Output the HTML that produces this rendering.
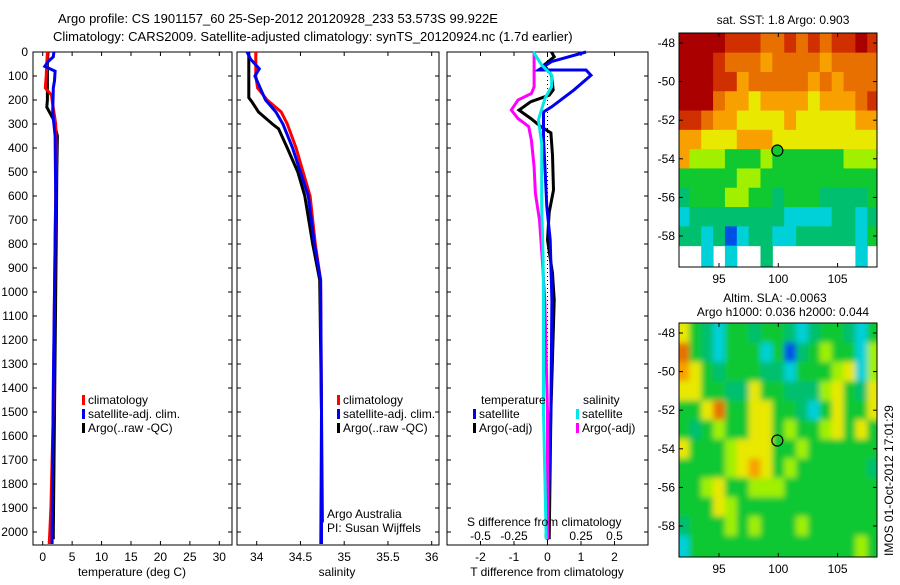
<!DOCTYPE html>
<html><head><meta charset="utf-8"><style>
body{margin:0;background:#fff;}
svg text{font-family:"Liberation Sans",sans-serif;font-size:12px;fill:#000;}
</style></head><body>
<svg id="fig" width="900" height="580" viewBox="0 0 900 580" xmlns="http://www.w3.org/2000/svg">
<rect width="900" height="580" fill="#fff"/>
<text x="58" y="23" style="font-size:13px">Argo profile: CS 1901157_60 25-Sep-2012 20120928_233 53.573S 99.922E</text>
<text x="53" y="41" style="font-size:13px">Climatology: CARS2009. Satellite-adjusted climatology: synTS_20120924.nc (1.7d earlier)</text>
<g id="plots"></g>
<text x="327" y="518">Argo Australia</text>
<text x="327" y="532">PI: Susan Wijffels</text>
<text x="467" y="526">S difference from climatology</text>
<text x="783" y="24" text-anchor="middle">sat. SST: 1.8 Argo: 0.903</text>
<text x="775" y="302" text-anchor="middle">Altim. SLA: -0.0063</text>
<text x="783" y="316" text-anchor="middle">Argo h1000: 0.036 h2000: 0.044</text>
<text transform="translate(893,556) rotate(-90)">IMOS 01-Oct-2012 17:01:29</text>
</svg>
<script>
// ---- profile data ----
const depthTClim=[0,100,150,180,200,300,400,600,1000,1500,1900,2000,2050];
const tempClim=[0.8,0.6,0.45,1.5,1.6,2.2,2.3,2.2,2.0,1.8,1.4,1.2,1.1];
const depthTSat=[0,20,40,60,80,120,150,250,350,600,1000,1400,2000,2050];
const tempSat=[1.9,1.8,0.9,0.35,2.1,2.0,1.8,1.7,2.1,2.2,2.0,1.8,1.6,1.6];
const depthTArgo=[0,50,200,230,280,350,500,800,1000,1500,2000,2030];
const tempArgo=[0.9,0.8,0.8,0.7,1.8,2.5,2.4,2.3,2.2,2.0,1.8,1.8];
const depthSClim=[0,100,150,200,250,300,400,500,600,800,950,1500,2050];
const salClim=[33.99,33.99,34.01,34.12,34.28,34.35,34.45,34.53,34.61,34.67,34.73,34.74,34.73];
const depthSSat=[0,30,70,100,200,250,300,400,500,600,800,950,1500,2050];
const salSat=[33.89,33.93,34.03,33.98,34.10,34.22,34.30,34.41,34.50,34.59,34.66,34.73,34.74,34.74];
const depthSArgo=[0,190,210,250,300,320,400,500,600,800,950,1500,1960];
const salArgo=[33.91,33.91,33.95,34.02,34.18,34.25,34.35,34.47,34.55,34.64,34.72,34.74,34.75];
const depthDTSat=[0,40,75,75,97,158,228,250,360,500,645,783,1033,1500,2030];
const dTSat=[1.15,0.12,-0.27,1.15,1.30,0.79,0.13,-0.12,-0.12,-0.07,-0.02,0.08,0.13,0.1,0.0];
const depthDTArgo=[0,20,54,97,158,180,207,242,277,311,337,430,575,668,783,922,1033,1500,2030];
const dTArgo=[0.12,0.2,-0.1,0.12,0.17,0.05,-0.5,-0.85,-0.5,-0.2,0.1,0.15,0.18,0.05,0.0,0.15,0.2,0.1,0.05];
const depthDSSat=[0,54,97,145,192,283,380,645,853,1033,1500,2030];
const dSSat=[-0.106,-0.043,0.033,0.03,-0.018,-0.068,-0.043,-0.043,-0.033,-0.03,-0.03,-0.01];
const depthDSArgo=[0,145,173,200,242,277,311,368,478,589,700,853,1033,1500,2030];
const dSArgo=[-0.1,-0.1,-0.12,-0.22,-0.27,-0.22,-0.14,-0.12,-0.10,-0.09,-0.06,-0.04,-0.02,0.0,0.0];
// ---- axis ticks ----
const depthTicks=[0,100,200,300,400,500,600,700,800,900,1000,1100,1200,1300,1400,1500,1600,1700,1800,1900,2000];
const tempTicks=[0,5,10,15,20,25,30];
const salTicks=[34,34.5,35,35.5,36];
const salTickLabels=["34","34.5","35","35.5","36"];
const dTTicks=[-2,-1,0,1,2];
const dSTicks=[-0.5,-0.25,0,0.25,0.5];
const dSTickLabels=["-0.5","-0.25","0","0.25","0.5"];
const lonTicks=[95,100,105];
const latTicks=[-48,-50,-52,-54,-56,-58];
// ---- map grids (rows from -48 to -59 lat, cols 92..108 lon, value 0..9, '.' = no data) ----
const sstGrid=["99998887787878898","99987776777767777","99988677777676777","99976656666566678","88766555565555566","66555666555555555","64443334333333444","33333443333333333","23334433233322223","12222222211112212","22120122112222213","..1.1..2.......1."];
const slaGrid=["53213323321233213","73213331302343314","65323332213334514","55332253322245325","33573355332135335","32343355343345353","53334555334333333","33334565343333332","33453344433333333","33354333333333333","23334343334333333","13333333333333343"];
const colorLevels=["#0050e8","#00d0d8","#00c070","#10c830","#a0f000","#e8e800","#f8a000","#e87000","#d03000","#aa0000"];

const NS="http://www.w3.org/2000/svg";
const root=document.getElementById('plots');
function mk(tag,attrs,parent){const e=document.createElementNS(NS,tag);for(const k in attrs)e.setAttribute(k,attrs[k]);(parent||root).appendChild(e);return e;}
const Y0=52,YS=0.24,TOP=52,BOT=545;
const yD=d=>Y0+d*YS;
function lin(d0,d1,p0,p1){return v=>p0+(v-d0)/(d1-d0)*(p1-p0);}
const panels=[
 {name:'temperature-panel',x0:33,x1:232,f:lin(0,30,42.7,219.3)},
 {name:'salinity-panel',x0:237,x1:439,f:lin(34,36,256.7,431.7)},
 {name:'difference-panel',x0:447,x1:648,f:lin(0,2,547.5,614.5)}
];
const fS=lin(0,0.5,547.5,614.5);
panels.forEach((p,i)=>{
  const g=mk('g',{});
  
  
  const fr=mk('rect',{x:p.x0,y:TOP,width:p.x1-p.x0,height:BOT-TOP,fill:'none',stroke:'#000','stroke-width':1},g);
  
  
  depthTicks.forEach(d=>{
    mk('line',{x1:p.x0,x2:p.x0+4,y1:yD(d),y2:yD(d),stroke:'#000'},g);
    mk('line',{x1:p.x1,x2:p.x1-4,y1:yD(d),y2:yD(d),stroke:'#000'},g);
  });
});
depthTicks.forEach(d=>{
  const t=mk('text',{x:28,y:yD(d)+4,'text-anchor':'end'});t.textContent=d;
  
  
});
function xTicks(p,ticks,labels,f){
  ticks.forEach((v,i)=>{
    const x=f(v);
    mk('line',{x1:x,x2:x,y1:TOP,y2:TOP+4,stroke:'#000'});
    mk('line',{x1:x,x2:x,y1:BOT,y2:BOT-4,stroke:'#000'});
    const t=mk('text',{x:x,y:561,'text-anchor':'middle'});t.textContent=labels?labels[i]:v;
    
    
  });
}
xTicks(panels[0],tempTicks,null,panels[0].f);
xTicks(panels[1],salTicks,salTickLabels,panels[1].f);
xTicks(panels[2],dTTicks,null,panels[2].f);
dSTicks.forEach((v,i)=>{const t=mk('text',{x:fS(v),y:540,'text-anchor':'middle'});t.textContent=dSTickLabels[i];
  
  });
[['temperature (deg C)',132],['salinity',337],['T difference from climatology',547]].forEach(a=>{
  const t=mk('text',{x:a[1],y:576,'text-anchor':'middle'});t.textContent=a[0];
  
  
});
mk('line',{x1:panels[2].f(0),x2:panels[2].f(0),y1:TOP,y2:BOT,stroke:'#000','stroke-dasharray':'1,3'});
function series(name,depths,vals,f,color,w){
  const pts=depths.map((d,i)=>f(vals[i]).toFixed(1)+','+yD(d).toFixed(1)).join(' ');
  const l=mk('polyline',{points:pts,fill:'none',stroke:color,'stroke-width':w||3,'stroke-linejoin':'miter'});
  
  
}
series('temp-argo-line',depthTArgo,tempArgo,panels[0].f,'#000');
series('temp-clim-line',depthTClim,tempClim,panels[0].f,'#f00');
series('temp-sat-line',depthTSat,tempSat,panels[0].f,'#0000f0');
series('sal-argo-line',depthSArgo,salArgo,panels[1].f,'#000');
series('sal-clim-line',depthSClim,salClim,panels[1].f,'#f00');
series('sal-sat-line',depthSSat,salSat,panels[1].f,'#0000f0');
series('dT-argo-line',depthDTArgo,dTArgo,panels[2].f,'#000');
series('dT-sat-line',depthDTSat,dTSat,panels[2].f,'#0000f0');
series('dS-argo-line',depthDSArgo,dSArgo,fS,'#ff00ff');
series('dS-sat-line',depthDSSat,dSSat,fS,'#00e8e8');
function legend(x,y,color,label){
  mk('rect',{x:x,y:y-9,width:3,height:10,fill:color});
  const t=mk('text',{x:x+6,y:y});t.textContent=label;
  
  
}
legend(82,404,'#f00','climatology');legend(82,418,'#0000f0','satellite-adj. clim.');legend(82,432,'#000','Argo(..raw -QC)');
legend(337,404,'#f00','climatology');legend(337,418,'#0000f0','satellite-adj. clim.');legend(337,432,'#000','Argo(..raw -QC)');
{const t=mk('text',{x:481,y:404});t.textContent='temperature';}
{const t=mk('text',{x:583,y:404});t.textContent='salinity';}
legend(473,418,'#0000f0','satellite');legend(473,432,'#000','Argo(-adj)');
legend(576,418,'#00e8e8','satellite');legend(576,432,'#ff00ff','Argo(-adj)');
function drawMap(name,grid,top,bottom,smooth){
  const X0=679,X1=877;
  const fx=lin(95,100,719,778.3), fy=lin(-48,-58,top+10,top+203);
  const g=mk('g',{});
  
  
  const cid=name+'-clip';
  const cp=mk('clipPath',{id:cid},g);mk('rect',{x:X0,y:top,width:X1-X0,height:bottom-top},cp);
  const cg=mk('g',{'clip-path':'url(#'+cid+')'},g);
  mk('rect',{x:X0,y:top,width:X1-X0,height:bottom-top,fill:smooth?colorLevels[3]:'#fff'},cg);
  const ig=mk('g',smooth?{filter:'url(#blur)'}:{},cg);
  grid.forEach((row,r)=>{
    for(let c=0;c<row.length;c++){
      const ch=row[c];if(ch==='.')continue;
      const lon=92+c, lat=-48-r;
      let xa=fx(lon-0.5),xb=fx(lon+0.5),ya=fy(lat+0.5),yb=fy(lat-0.5);
      if(c===0)xa-=20;if(c===row.length-1)xb+=20;if(r===0)ya-=20;if(r===grid.length-1)yb+=20;
      const cell=mk('rect',{x:xa,y:ya,width:xb-xa+0.5,height:yb-ya+0.5,fill:colorLevels[+ch]},ig);
      
      
    }
  });
  const m=mk('circle',{cx:fx(99.92),cy:fy(-53.57),r:5.5,fill:smooth?'none':'#10c830',stroke:'#000','stroke-width':1.2},g);
  
  
  mk('rect',{x:X0,y:top,width:X1-X0,height:bottom-top,fill:'none',stroke:'#000'},g);
  lonTicks.forEach(v=>{mk('line',{x1:fx(v),x2:fx(v),y1:bottom,y2:bottom-4,stroke:'#000'},g);mk('line',{x1:fx(v),x2:fx(v),y1:top,y2:top+4,stroke:'#000'},g);
    const t=mk('text',{x:fx(v),y:bottom+16,'text-anchor':'middle'},g);t.textContent=v;
    
    });
  latTicks.forEach(v=>{mk('line',{x1:X0,x2:X0+4,y1:fy(v),y2:fy(v),stroke:'#000'},g);mk('line',{x1:X1,x2:X1-4,y1:fy(v),y2:fy(v),stroke:'#000'},g);
    const t=mk('text',{x:675,y:fy(v)+4,'text-anchor':'end'},g);t.textContent=v;
    
    });
}
const defs=mk('defs',{});const flt=mk('filter',{id:'blur',x:'-10%',y:'-10%',width:'120%',height:'120%'},defs);mk('feGaussianBlur',{stdDeviation:3},flt);
drawMap('sst-map',sstGrid,33,267,false);
drawMap('sla-map',slaGrid,323,557,true);
</script>
</body></html>
